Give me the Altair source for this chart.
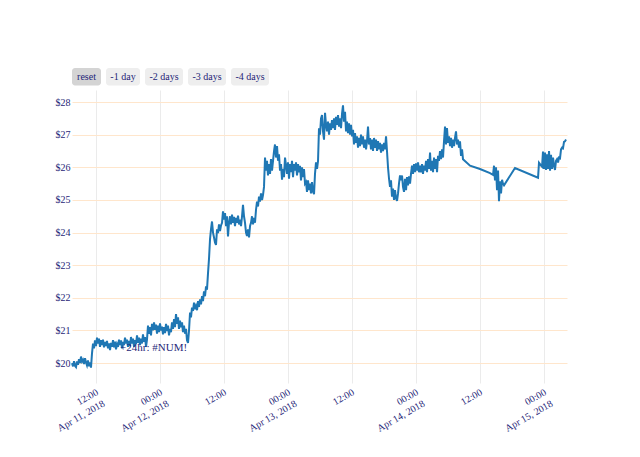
import altair as alt
import pandas as pd

# ---------------- data ----------------
# hours after 2018-04-11 00:00
hours = [
    7.50, 7.69, 7.88, 8.06, 8.25, 8.44, 8.63, 8.81,
    9.00, 9.19, 9.38, 9.56, 9.75, 9.94, 10.13, 10.31, 10.50, 10.69, 10.88, 11.06, 11.25, 11.44, 11.63, 11.81,
    12.00, 12.19, 12.38, 12.56, 12.75, 12.94, 13.13, 13.31, 13.50, 13.69, 13.88, 14.06, 14.25, 14.44, 14.63, 14.81,
    15.00, 15.19, 15.38, 15.56, 15.75, 15.94, 16.13, 16.31, 16.50, 16.69, 16.88, 17.06, 17.25, 17.44, 17.63, 17.81,
    18.00, 18.19, 18.38, 18.56, 18.75, 18.94, 19.13, 19.31, 19.50, 19.69, 19.88, 20.06, 20.25, 20.44, 20.63, 20.81,
    21.00, 21.19, 21.38, 21.56, 21.75, 21.94, 22.13, 22.31, 22.50, 22.69, 22.88, 23.06, 23.25, 23.44, 23.63, 23.81,
    24.00, 24.19, 24.38, 24.56, 24.75, 24.94, 25.13, 25.31, 25.50, 25.69, 25.88, 26.06, 26.25, 26.44, 26.63, 26.81,
    27.00, 27.19, 27.38, 27.56, 27.75, 27.94, 28.13, 28.31, 28.50, 28.69, 28.88, 29.06, 29.25, 29.44, 29.63, 29.81,
    30.00, 30.19, 30.38, 30.56, 30.75, 30.94, 31.13, 31.31, 31.50, 31.69, 31.88, 32.06, 32.25, 32.44, 32.63, 32.81,
    33.00, 33.19, 33.38, 33.56, 33.75, 33.94, 34.13, 34.31, 34.50, 34.69, 34.88, 35.06, 35.25, 35.44, 35.63, 35.81,
    36.00, 36.19, 36.38, 36.56, 36.75, 36.94, 37.13, 37.31, 37.50, 37.69, 37.88, 38.06, 38.25, 38.44, 38.63, 38.81,
    39.00, 39.19, 39.38, 39.56, 39.75, 39.94, 40.13, 40.31, 40.50, 40.69, 40.88, 41.06, 41.25, 41.44, 41.63, 41.81,
    42.00, 42.19, 42.38, 42.56, 42.75, 42.94, 43.13, 43.31, 43.50, 43.69, 43.88, 44.06, 44.25, 44.44, 44.63, 44.81,
    45.00, 45.19, 45.38, 45.56, 45.75, 45.94, 46.13, 46.31, 46.50, 46.69, 46.88, 47.06, 47.25, 47.44, 47.63, 47.81,
    48.00, 48.19, 48.38, 48.56, 48.75, 48.94, 49.13, 49.31, 49.50, 49.69, 49.88, 50.06, 50.25, 50.44, 50.63, 50.81,
    51.00, 51.19, 51.38, 51.56, 51.75, 51.94, 52.13, 52.31, 52.50, 52.69, 52.88, 53.06, 53.25, 53.44, 53.63, 53.81,
    54.00, 54.19, 54.38, 54.56, 54.75, 54.94, 55.13, 55.31, 55.50, 55.69, 55.88, 56.06, 56.25, 56.44, 56.63, 56.81,
    57.00, 57.19, 57.38, 57.56, 57.75, 57.94, 58.13, 58.31, 58.50, 58.69, 58.88, 59.06, 59.25, 59.44, 59.63, 59.81,
    60.00, 60.19, 60.38, 60.56, 60.75, 60.94, 61.13, 61.31, 61.50, 61.69, 61.88, 62.06, 62.25, 62.44, 62.63, 62.81,
    63.00, 63.19, 63.38, 63.56, 63.75, 63.94, 64.13, 64.31, 64.50, 64.69, 64.88, 65.06, 65.25, 65.44, 65.63, 65.81,
    66.00, 66.19, 66.38, 66.56, 66.75, 66.94, 67.13, 67.31, 67.50, 67.69, 67.88, 68.06, 68.25, 68.44, 68.63, 68.81,
    69.00, 69.19, 69.38, 69.56, 69.75, 69.94, 70.13, 70.31, 70.50, 70.69, 70.88, 71.06, 71.25, 71.44, 71.63, 71.81,
    72.00, 72.19, 72.38, 72.56, 72.75, 72.94, 73.13, 73.31, 73.50, 73.69, 73.88, 74.06, 74.25, 74.44, 74.63, 74.81,
    75.00, 75.19, 75.38, 75.56, 75.75, 75.94, 76.13, 76.31, 76.50, 76.69, 76.88, 77.06, 77.25, 77.44, 77.63, 77.81,
    78.00, 78.19, 78.38, 78.56, 78.75, 78.94, 79.13, 79.31, 79.50, 79.69, 79.88, 80.06, 80.25, 80.44, 80.63, 80.81,
    82.13, 84.00, 85.88, 86.44, 86.63, 86.81, 87.00, 87.19, 87.38, 87.56, 87.75, 87.94, 88.13, 88.31, 88.50, 90.56, 94.88,
    95.06, 95.25, 95.44, 95.63, 95.81, 96.00, 96.19, 96.38, 96.56, 96.75, 96.94, 97.13, 97.31, 97.50, 97.69, 97.88,
    98.06, 98.25, 98.44, 98.63, 98.81, 99.00, 99.19, 99.38, 99.56, 99.75, 99.94, 100.13,
]

price = [
    20.00, 19.90, 20.06, 19.92, 19.88, 20.05, 19.95, 20.12,
    20.00, 20.20, 20.05, 20.10, 19.97, 20.15, 20.02, 19.93, 20.08, 19.90, 20.02, 19.86, 20.30, 20.60, 20.45, 20.70,
    20.52, 20.78, 20.60, 20.75, 20.50, 20.70, 20.55, 20.72, 20.48, 20.65, 20.52, 20.68, 20.45, 20.60, 20.40, 20.62,
    20.50, 20.70, 20.48, 20.66, 20.42, 20.58, 20.50, 20.72, 20.55, 20.70, 20.45, 20.65, 20.55, 20.78, 20.60, 20.72,
    20.50, 20.68, 20.52, 20.80, 20.60, 20.75, 20.50, 20.70, 20.58, 20.85, 20.62, 20.78, 20.55, 20.75, 20.60, 20.88,
    20.65, 20.80, 20.50, 20.72, 21.15, 20.90, 21.10, 20.85, 21.20, 21.00, 21.25, 21.02, 21.18, 20.90, 21.15, 20.95,
    21.22, 21.00, 21.12, 20.88, 21.10, 20.92, 21.20, 20.98, 21.15, 20.85, 21.05, 20.95, 21.25, 21.05, 21.35, 21.10,
    21.50, 21.20, 21.40, 21.05, 21.30, 21.10, 21.25, 20.95, 21.15, 20.90, 21.05, 20.70, 20.62, 21.00, 21.55, 21.40,
    21.70, 21.60, 21.85, 21.65, 21.75, 21.62, 21.90, 21.72, 21.95, 21.80, 22.05, 21.90, 22.20, 22.05, 22.35, 22.25,
    22.75, 23.20, 23.80, 24.10, 24.34, 24.00, 23.85, 23.70, 23.62, 24.10, 23.98, 24.25, 24.05, 24.22, 24.30, 24.65,
    24.40, 24.60, 24.20, 24.50, 23.88, 24.30, 24.50, 24.25, 24.55, 24.30, 24.48, 24.20, 24.45, 24.30, 24.52, 24.25,
    24.40, 24.20, 24.50, 24.85, 24.50, 24.30, 24.00, 23.90, 24.10, 23.85, 24.20, 24.30, 24.50, 24.25, 24.45, 24.30,
    24.70, 24.95, 24.80, 25.10, 24.95, 25.20, 25.00, 25.15, 25.40, 26.30, 25.90, 26.20, 25.75, 26.10, 25.80, 26.25,
    25.90, 26.20, 26.50, 26.70, 26.30, 26.65, 26.20, 26.40, 25.90, 26.10, 25.62, 25.95, 25.70, 26.30, 26.05, 25.80,
    26.15, 25.65, 26.10, 25.85, 26.20, 25.70, 26.10, 25.90, 26.15, 25.75, 26.10, 25.85, 26.05, 25.60, 26.00, 25.70,
    25.95, 25.50, 25.55, 25.25, 25.60, 25.30, 25.50, 25.20, 25.55, 25.25, 25.18, 25.80, 26.15, 25.95, 26.20, 27.20,
    27.00, 27.50, 27.60, 27.10, 26.85, 27.67, 27.30, 27.10, 27.40, 27.00, 27.35, 27.15, 27.45, 27.20, 27.50, 27.15,
    27.55, 27.30, 27.60, 27.25, 27.50, 27.20, 27.65, 27.90, 27.40, 27.70, 27.10, 27.40, 27.05, 27.35, 27.00, 27.30,
    26.95, 27.15, 26.70, 27.05, 26.75, 26.95, 26.60, 26.90, 26.65, 27.00, 26.70, 26.95, 26.60, 26.85, 26.55, 26.80,
    27.25, 26.70, 26.90, 26.55, 26.85, 26.50, 26.90, 26.60, 26.85, 26.50, 26.80, 26.55, 26.75, 26.45, 26.70, 26.50,
    26.75, 26.55, 26.95, 26.50, 26.00, 25.65, 25.40, 25.60, 25.10, 25.35, 25.00, 25.30, 25.05, 24.97, 25.20, 25.50,
    25.75, 25.60, 25.75, 25.40, 25.25, 25.65, 25.30, 25.70, 25.45, 25.72, 25.50, 25.80, 26.05, 25.80, 26.10, 25.85,
    26.12, 25.90, 26.15, 25.85, 26.05, 25.85, 26.10, 25.80, 26.05, 25.90, 26.20, 25.85, 26.25, 25.95, 26.45, 25.90,
    26.20, 25.85, 26.30, 25.95, 26.25, 25.85, 26.35, 26.20, 26.50, 26.25, 26.55, 26.30, 26.80, 27.25, 26.70, 27.20,
    26.75, 26.95, 26.65, 26.90, 26.60, 26.85, 26.65, 26.90, 27.10, 26.70, 26.85, 26.60, 26.80, 26.35, 26.55, 26.25,
    26.05, 25.95, 25.82, 25.77, 26.05, 25.60, 26.00, 25.30, 25.90, 24.96, 25.57, 25.20, 25.62, 25.50, 25.45, 25.98, 25.68,
    26.14, 26.10, 26.05, 26.02, 26.48, 25.95, 26.45, 25.92, 26.40, 25.95, 26.50, 25.90, 26.38, 25.95, 26.30, 26.05,
    25.92, 26.20, 26.25, 26.15, 26.30, 26.28, 26.55, 26.60, 26.58, 26.78, 26.80, 26.85,
]

tick_hours = [12, 24, 36, 48, 60, 72, 84, 96]
tick_labels = ["12:00\nApr 11, 2018", "00:00\nApr 12, 2018", "12:00", "00:00\nApr 13, 2018",
               "12:00", "00:00\nApr 14, 2018", "12:00", "00:00\nApr 15, 2018"]
y_ticks = [20, 21, 22, 23, 24, 25, 26, 27, 28]
y_range = [19.39, 28.37]
x_range_hours = [7.5, 100.31]
buttons = ["reset", "-1 day", "-2 days", "-3 days", "-4 days"]
note_text = ["+24hr: #NUM!"]
note_hour = [22.8]
note_price = [20.47]

assert len(hours) == len(price), (len(hours), len(price))

# ---------------- build ----------------
FONT = "Liberation Serif"
TXT = "#1f1f78"
BASE = pd.Timestamp("2018-04-11 00:00:00")


def ts(h):
    return BASE + pd.to_timedelta(h, unit="h")


def dt(h):
    t = ts(h)
    return alt.DateTime(year=t.year, month=t.month, date=t.day,
                        hours=t.hour, minutes=t.minute, seconds=t.second)


df = pd.DataFrame({"t": [ts(h) for h in hours], "price": price})
xscale = alt.Scale(domain=[dt(x_range_hours[0]), dt(x_range_hours[1])], nice=False)
yscale = alt.Scale(domain=y_range, nice=False, zero=False)

x_axis = alt.Axis(values=[dt(h) for h in tick_hours], grid=True, gridColor="#ebebeb",
                  gridWidth=1, labels=False, ticks=False, domain=False, title=None)
y_axis = alt.Axis(values=y_ticks, format="$.0f", grid=True, gridColor="#ffe6cc",
                  gridWidth=1, ticks=False, domain=False, title=None, labelOverlap=False,
                  labelFont=FONT, labelFontSize=10, labelColor=TXT, labelPadding=2)

X = alt.X("t:T", scale=xscale, axis=x_axis)
Y = alt.Y("price:Q", scale=yscale, axis=y_axis)

line = alt.Chart(df).mark_line(color="#1f77b4", strokeWidth=2).encode(x=X, y=Y)

tick_df = pd.DataFrame({"t": [ts(h) for h in tick_hours], "label": tick_labels})
tick_text = alt.Chart(tick_df).mark_text(
    angle=330, align="right", baseline="top", lineBreak="\n", fontSize=10,
    font=FONT, color=TXT, lineHeight=13, dy=-2,
).encode(x=X, y=alt.value(299), text="label:N")

note_df = pd.DataFrame({"t": [ts(h) for h in note_hour], "price": note_price, "text": note_text})
note = alt.Chart(note_df).mark_text(fontSize=11, font=FONT, color=TXT, baseline="middle").encode(
    x=X, y=Y, text="text:N")

button_x = [(0, 29), (34, 68), (73, 111), (116, 154), (159, 197)]
layers = [line, note, tick_text]
for i, b in enumerate(buttons):
    bdf = pd.DataFrame({"label": [b]})
    x0, x1 = button_x[i]
    fill = "#d4d4d4" if i == 0 else "#eeeeee"
    layers.append(alt.Chart(bdf).mark_rect(color=fill, cornerRadius=3).encode(
        x=alt.value(x0), x2=alt.value(x1), y=alt.value(-22), y2=alt.value(-4.5)))
    layers.append(alt.Chart(bdf).mark_text(fontSize=10, font=FONT, color=TXT, baseline="middle").encode(
        x=alt.value((x0 + x1) / 2), y=alt.value(-13), text="label:N"))

chart = alt.layer(*layers).properties(
    width=495, height=293,
    padding={"left": 72, "top": 90, "right": 73, "bottom": 74},
    autosize=alt.AutoSizeParams(type="none"),
    background="white",
).configure_view(stroke=None)

chart.save("out.html", embed_options={"renderer": "svg", "actions": False})
